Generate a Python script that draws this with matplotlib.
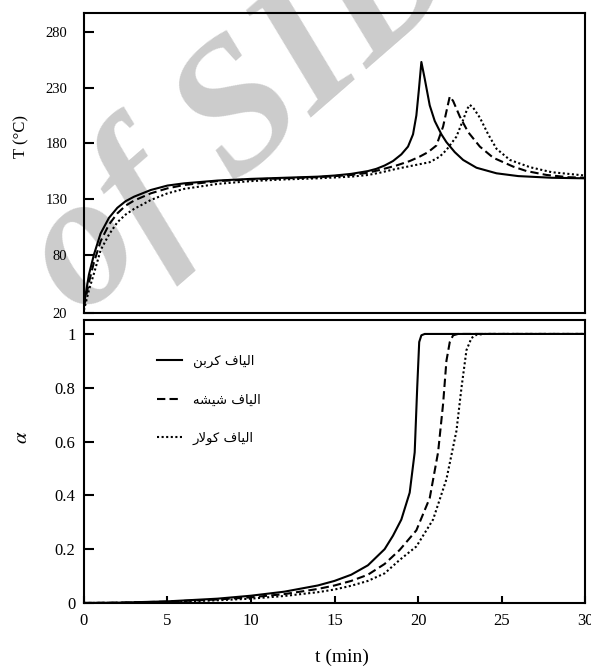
import numpy as np
import matplotlib
matplotlib.use("Agg")
import matplotlib.pyplot as plt

# --- data ------------------------------------------------------------------
series_labels = ["الیاف کربن", "الیاف شیشه", "الیاف کولار"]

# temperature (deg C) vs time (min)
t_temp_carbon = [0, 0.3, 0.6, 1.0, 1.5, 2.0, 2.5, 3, 4, 5, 6, 8, 10, 12, 14, 15, 16, 17, 17.5, 18,
                 18.5, 19, 19.4, 19.7, 19.9, 20.05, 20.2, 20.4, 20.7, 21.0, 21.4, 21.7, 22.2, 22.7,
                 23.5, 24.7, 26, 28, 30]
temp_carbon = [35, 62, 80, 99, 113, 122, 128, 132, 138, 142, 144, 146.5, 148, 149, 150, 151, 152.5,
               155, 157, 160, 164, 170, 177, 188, 205, 228, 253, 238, 214, 200, 188, 181, 172, 165,
               158, 153, 150.5, 149, 148.5]

t_temp_glass = [0, 0.3, 0.6, 1.0, 1.5, 2, 2.5, 3, 4, 5, 6, 8, 10, 12, 14, 15, 16, 17, 17.7, 18.7,
                19.5, 20.1, 20.6, 21.1, 21.5, 21.75, 21.9, 22.1, 22.5, 23, 23.7, 24.5, 25.7, 26.5,
                27.7, 29, 30]
temp_glass = [33, 55, 73, 92, 107, 117, 124, 128.5, 135, 139.5, 142.5, 146, 147.5, 148.5, 149.5,
              150.5, 151.5, 153.5, 156, 160, 164, 168, 172, 178, 195, 212, 222, 218, 204, 190, 177,
              167, 159, 155, 151.5, 149.5, 149]

t_temp_kevlar = [0, 0.3, 0.6, 1.0, 1.5, 2, 2.5, 3, 4, 5, 6, 8, 10, 12, 14, 16, 17, 17.7, 18.7, 19.7,
                 20.7, 21.3, 21.7, 22.3, 22.7, 22.95, 23.1, 23.3, 23.7, 24.2, 24.7, 25.5, 26.7, 28, 30]
temp_kevlar = [30, 48, 63, 84, 98, 109, 116, 121, 129, 135, 139, 143.5, 146, 147.5, 148.5, 150,
               151.5, 153.5, 157, 160, 163, 168, 174, 186, 201, 211, 214.5, 212, 203, 188, 175, 165,
               158.5, 154, 151]

# degree of cure vs time (min)
t_alpha_carbon = [0, 2, 5, 8, 10, 12, 14, 15, 16, 17, 18, 18.5, 19, 19.5, 19.8, 19.95, 20.07, 20.2,
                  20.4, 30]
alpha_carbon = [0, 0.001, 0.006, 0.016, 0.027, 0.042, 0.065, 0.082, 0.105, 0.14, 0.2, 0.25, 0.31,
                0.41, 0.56, 0.8, 0.97, 0.995, 1.0, 1.0]

t_alpha_glass = [0, 2, 5, 8, 10, 12, 14, 15, 16, 17, 18, 18.9, 19.9, 20.7, 21.2, 21.5, 21.7, 21.9,
                 22.1, 22.4, 30]
alpha_glass = [0, 0.001, 0.005, 0.013, 0.021, 0.033, 0.052, 0.065, 0.082, 0.105, 0.145, 0.197, 0.27,
               0.39, 0.56, 0.74, 0.9, 0.97, 0.995, 1.0, 1.0]

t_alpha_kevlar = [0, 2, 5, 8, 10, 12, 14, 15, 16, 17, 18, 18.9, 19.9, 20.9, 21.7, 22.3, 22.6, 22.9,
                  23.2, 23.5, 24, 30]
alpha_kevlar = [0, 0.0005, 0.003, 0.01, 0.016, 0.026, 0.04, 0.05, 0.064, 0.082, 0.11, 0.16, 0.21,
                0.31, 0.46, 0.64, 0.8, 0.94, 0.985, 0.997, 1.0, 1.0]

temp_ticks = [80, 130, 180, 230, 280]
temp_bottom_label = "20"
alpha_ticks = [0, 0.2, 0.4, 0.6, 0.8, 1]
alpha_tick_labels = ["0", "0.2", "0.4", "0.6", "0.8", "1"]
time_ticks = [0, 5, 10, 15, 20, 25, 30]

# --- Persian text: matplotlib has no shaping, so pick presentation forms by hand
# (isolated, final, initial, medial); None = letter does not join to the next one
FORMS = {
    'ا': ('\uFE8D', '\uFE8E', None, None),
    'ب': ('\uFE8F', '\uFE90', '\uFE91', '\uFE92'),
    'ر': ('\uFEAD', '\uFEAE', None, None),
    'ش': ('\uFEB5', '\uFEB6', '\uFEB7', '\uFEB8'),
    'ف': ('\uFED1', '\uFED2', '\uFED3', '\uFED4'),
    'ل': ('\uFEDD', '\uFEDE', '\uFEDF', '\uFEE0'),
    'ن': ('\uFEE5', '\uFEE6', '\uFEE7', '\uFEE8'),
    'ه': ('\uFEE9', '\uFEEA', '\uFEEB', '\uFEEC'),
    'و': ('\uFEED', '\uFEEE', None, None),
    'ک': ('\uFB8E', '\uFB8F', '\uFB90', '\uFB91'),
    'ی': ('\uFBFC', '\uFBFD', '\uFBFE', '\uFBFF'),
}
LAM_ALEF = ('\uFEFB', '\uFEFC')


def shape_fa(text):
    words = []
    for word in text.split(' '):
        res = []
        i = 0
        while i < len(word):
            c = word[i]
            prev_joins = i > 0 and FORMS[word[i - 1]][2] is not None
            if c == 'ل' and i + 1 < len(word) and word[i + 1] == 'ا':
                res.append(LAM_ALEF[1] if prev_joins else LAM_ALEF[0])
                i += 2
                continue
            iso, fin, ini, med = FORMS[c]
            joins_next = ini is not None and i + 1 < len(word)
            if prev_joins and joins_next:
                res.append(med)
            elif prev_joins:
                res.append(fin)
            elif joins_next:
                res.append(ini)
            else:
                res.append(iso)
            i += 1
        words.append(''.join(reversed(res)))
    return ' '.join(reversed(words))


# --- figure -----------------------------------------------------------------
plt.rcParams['font.family'] = ['Liberation Serif', 'DejaVu Sans']
plt.rcParams['mathtext.fontset'] = 'stix'
plt.rcParams['axes.linewidth'] = 1.5

fig = plt.figure(figsize=(5.91, 6.67), dpi=100)
ax_t = fig.add_axes([0.142, 0.5307, 0.848, 0.4498])
ax_a = fig.add_axes([0.142, 0.096, 0.848, 0.4243])

# watermark behind everything
fig.text(0.415, 0.83, "of SID", rotation=41, fontsize=135, color='#cccccc',
         fontweight='bold', fontstyle='italic', family='Liberation Serif',
         ha='center', va='center', zorder=-5)

styles = [dict(ls='-'), dict(ls=(0, (4, 2))), dict(ls=(0, (1, 1.2)))]
temp_series = [(t_temp_carbon, temp_carbon), (t_temp_glass, temp_glass), (t_temp_kevlar, temp_kevlar)]
alpha_series = [(t_alpha_carbon, alpha_carbon), (t_alpha_glass, alpha_glass),
                (t_alpha_kevlar, alpha_kevlar)]

for (tx, ty), st in zip(temp_series, styles):
    ax_t.plot(tx, ty, color='black', lw=1.5, **st)

for (tx, ay), st, lab in zip(alpha_series, styles, series_labels):
    ax_a.plot(tx, ay, color='black', lw=1.5, label=shape_fa(lab), **st)

for ax in (ax_t, ax_a):
    ax.patch.set_alpha(0)
    ax.set_xlim(0, 30)
    for sp in ax.spines.values():
        sp.set_linewidth(1.5)

# top panel
ax_t.set_ylim(27.5, 297)
ax_t.set_yticks([27.5] + temp_ticks, labels=[temp_bottom_label] + [str(v) for v in temp_ticks])
ax_t.set_xticks([])
ax_t.tick_params(axis='y', direction='in', length=7, width=1.5, pad=12, labelsize=10.5)
ax_t.set_ylabel("T (°C)", fontsize=12)
ax_t.yaxis.set_label_coords(-0.108, 0.587)

# bottom panel
ax_a.set_ylim(0, 1.052)
ax_a.set_yticks(alpha_ticks, labels=alpha_tick_labels)
ax_a.set_xticks(time_ticks)
ax_a.tick_params(axis='y', direction='in', length=7, width=1.5, pad=6, labelsize=12)
ax_a.tick_params(axis='x', direction='in', length=5, width=1.5, pad=7, labelsize=12)
ax_a.set_ylabel(r"$\alpha$", fontsize=15, rotation=90)
ax_a.yaxis.set_label_coords(-0.104, 0.587)
ax_a.set_xlabel("t (min)", fontsize=14)
ax_a.xaxis.set_label_coords(0.515, -0.16)

ax_a.legend(loc='upper left', bbox_to_anchor=(0.146, 0.878), frameon=False,
            prop={'family': 'DejaVu Sans', 'size': 9.5}, handlelength=1.9,
            handletextpad=0.8, labelspacing=1.95, borderpad=0, borderaxespad=0)

fig.savefig("out.png", dpi=100)
